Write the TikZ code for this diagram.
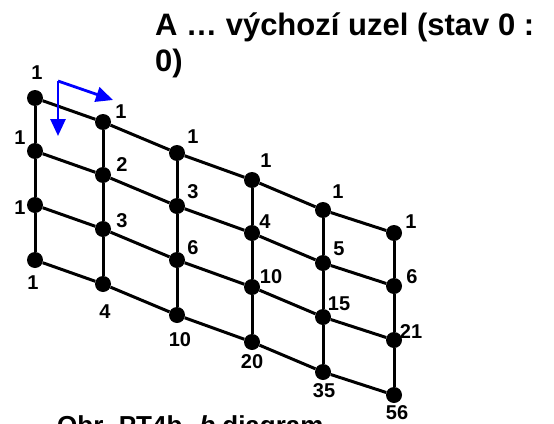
\documentclass[tikz,border=0pt]{standalone}
\usepackage{fontspec}
\setmainfont{Liberation Sans}
\usetikzlibrary{arrows.meta}
\begin{document}
\begin{tikzpicture}[x=1pt,y=-1pt,
  dot/.style={circle,fill=black,inner sep=0pt,minimum size=16pt},
  edge/.style={line width=3pt,black},
  lbl/.style={font=\fontsize{20}{23}\selectfont\bfseries,inner sep=0pt},
  title/.style={font=\fontsize{31}{36}\selectfont\bfseries,inner sep=0pt,anchor=base west},
  dir/.style={blue,line width=2.8pt,-{Triangle[length=17pt,width=15pt]}}]
\useasboundingbox (0,0) rectangle (554,423);
% nodes of the lattice
\foreach \c/\x/\t in {0/35/98,1/103/122,2/177/153,3/252/180,4/323/210,5/394/233}{
  \foreach \r/\d in {0/0,1/53,2/107,3/162}{
    \node[dot] (n\c\r) at (\x,\t+\d) {};
  }
}
% connectors
\foreach \c in {0,...,5}{
  \draw[edge] (n\c0) -- (n\c1) -- (n\c2) -- (n\c3);
}
\foreach \r in {0,...,3}{
  \draw[edge] (n0\r) -- (n1\r) -- (n2\r) -- (n3\r) -- (n4\r) -- (n5\r);
}
% labels
\node[lbl] (l00) at (37,73) {1};
\node[lbl] (l01) at (20,138) {1};
\node[lbl] (l02) at (20,208) {1};
\node[lbl] (l03) at (33,283) {1};
\node[lbl] (l10) at (121,112) {1};
\node[lbl] (l11) at (122,165) {2};
\node[lbl] (l12) at (122,221) {3};
\node[lbl] (l13) at (105,312) {4};
\node[lbl] (l20) at (193,137) {1};
\node[lbl] (l21) at (193,192) {3};
\node[lbl] (l22) at (193,248) {6};
\node[lbl] (l23) at (180,340) {10};
\node[lbl] (l30) at (266,161) {1};
\node[lbl] (l31) at (265,222) {4};
\node[lbl] (l32) at (271,277) {10};
\node[lbl] (l33) at (252,362) {20};
\node[lbl] (l40) at (338,192) {1};
\node[lbl] (l41) at (339,249) {5};
\node[lbl] (l42) at (339,304) {15};
\node[lbl] (l43) at (324,391) {35};
\node[lbl] (l50) at (411,222) {1};
\node[lbl] (l51) at (412,277) {6};
\node[lbl] (l52) at (411,332) {21};
\node[lbl] (l53) at (397,413) {56};
% direction arrows
\coordinate (corner) at (58,81);
\coordinate (downtip) at (58,136);
\coordinate (righttip) at (113,100);
\draw[dir] (corner) -- (downtip);
\draw[dir] (corner) -- (righttip);
% texts
\node[title] (t1) at (155,35) {A … výchozí uzel (stav 0 :};
\node[title] (t2) at (155,71) {0)};
\node[font=\fontsize{26}{30}\selectfont\bfseries,inner sep=0pt,anchor=base west] (cap) at (57,434) {Obr. PT4b. \textit{b} diagram};
\end{tikzpicture}
\end{document}
